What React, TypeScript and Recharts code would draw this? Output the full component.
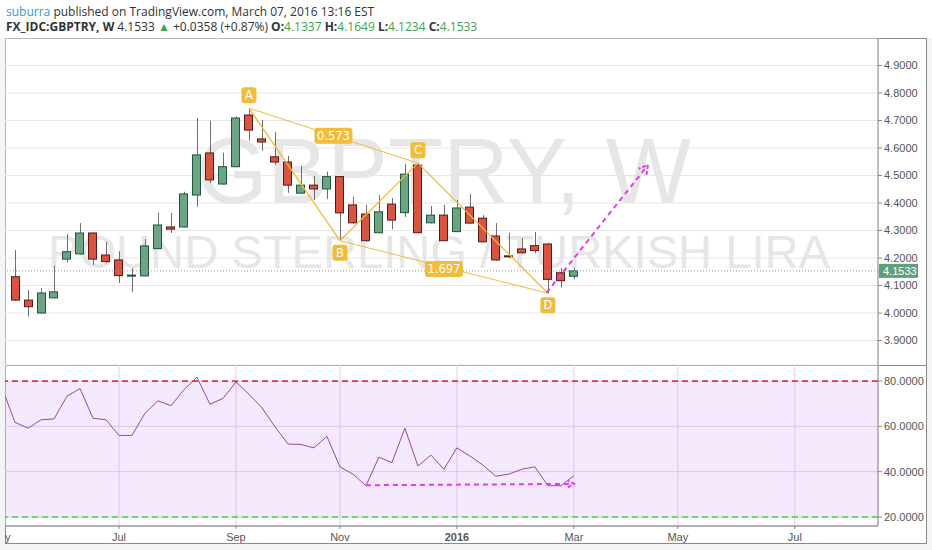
import React from 'react';
import {
    ComposedChart,
    Bar,
    Line,
    XAxis,
    YAxis,
    CartesianGrid,
    ReferenceLine,
    ReferenceArea,
    ReferenceDot,
} from 'recharts';

// weekly bars, index 0 = week of May 4 2015 (mostly off the left edge)
const barIdx = [1, 2, 3, 4, 5, 6, 7, 8, 9, 10, 11, 12, 13, 14, 15, 16, 17, 18, 19, 20, 21, 22,
    23, 24, 25, 26, 27, 28, 29, 30, 31, 32, 33, 34, 35, 36, 37, 38, 39, 40, 41, 42, 43, 44];
const opens = [4.132, 4.047, 4.0, 4.055, 4.196, 4.215, 4.291, 4.211, 4.193, 4.134, 4.135, 4.234, 4.313, 4.313,
    4.429, 4.582, 4.469, 4.532, 4.72, 4.633, 4.568, 4.549, 4.436, 4.465, 4.451, 4.496, 4.393, 4.36, 4.292,
    4.396, 4.365, 4.538, 4.328, 4.356, 4.296, 4.385, 4.345, 4.28, 4.208, 4.233, 4.245, 4.251, 4.1465, 4.1337];
const highs = [4.229, 4.084, 4.091, 4.172, 4.287, 4.327, 4.293, 4.259, 4.225, 4.164, 4.269, 4.365, 4.364, 4.441,
    4.709, 4.699, 4.583, 4.716, 4.745, 4.702, 4.658, 4.571, 4.535, 4.499, 4.514, 4.498, 4.423, 4.393, 4.429,
    4.418, 4.542, 4.545, 4.389, 4.393, 4.411, 4.433, 4.356, 4.327, 4.291, 4.273, 4.295, 4.255, 4.164, 4.1649];
const lows = [4.045, 3.987, 3.998, 4.053, 4.183, 4.212, 4.175, 4.183, 4.109, 4.076, 4.133, 4.232, 4.291, 4.31,
    4.387, 4.473, 4.467, 4.53, 4.627, 4.59, 4.538, 4.437, 4.434, 4.411, 4.415, 4.263, 4.325, 4.26, 4.29,
    4.305, 4.349, 4.29, 4.326, 4.261, 4.294, 4.325, 4.257, 4.19, 4.2, 4.216, 4.218, 4.072, 4.093, 4.1234];
const closes = [4.047, 4.023, 4.073, 4.077, 4.223, 4.291, 4.196, 4.187, 4.136, 4.138, 4.244, 4.32, 4.305, 4.433,
    4.575, 4.484, 4.532, 4.709, 4.665, 4.622, 4.549, 4.465, 4.465, 4.451, 4.496, 4.364, 4.328, 4.263, 4.368,
    4.338, 4.505, 4.292, 4.356, 4.263, 4.382, 4.327, 4.259, 4.193, 4.205, 4.219, 4.227, 4.1225, 4.1175, 4.1533];

const rsiIdx = [0, ...barIdx];
const rsi = [77, 61.8, 59.2, 62.9, 63.3, 73.3, 76.7, 63.6, 62.9, 56.0, 56.0, 65.8, 71.3, 69.1, 76.2, 81.7,
    69.8, 72.3, 79.6, 74.2, 68.2, 59.9, 52.2, 52.0, 50.5, 55.6, 42.1, 38.9, 33.8, 46.4, 44.0, 59.2, 42.5,
    47.3, 41.1, 50.5, 46.9, 42.9, 38.0, 38.9, 41.1, 42.1, 33.8, 33.8, 38.2];

const monthTicks = [9, 18, 26, 35, 44, 52, 61];
const monthLabels = ['Jul', 'Sep', 'Nov', '2016', 'Mar', 'May', 'Jul'];
const priceTicks = [3.9, 4.0, 4.1, 4.2, 4.3, 4.4, 4.5, 4.6, 4.7, 4.8, 4.9];
const rsiTicks = [20, 40, 60, 80];

// ABCD pattern pivots (bar, price)
const patternNames = ['A', 'B', 'C', 'D'];
const patternBars = [19, 26, 32, 42];
const patternPrices = [4.745, 4.263, 4.545, 4.072];
const patternRatios = ['0.573', '1.697'];
const arrowFrom = { x: 41.9, y: 4.074 };
const arrowTo = { x: 49.7, y: 4.538 };
const rsiDivFrom = { x: 28, y: 34.0 };
const rsiDivTo = { x: 44, y: 34.6 };
const lastPrice = 4.1533;

const X0 = 0.23;
const X1 = 67.4;
const PLOT_W = 873;

const candles = barIdx.map((i, k) => ({ i, open: opens[k], high: highs[k], low: lows[k], close: closes[k] }));
const rsiData = rsiIdx.map((i, k) => ({ i, rsi: rsi[k] }));
const pivots = patternBars.map((x, k) => ({ x, y: patternPrices[k], name: patternNames[k] }));

const GOLD = '#f2bb3a';
const AXIS = '#8a8a8a';
const TXT = '#555';

const Candle = (props: any) => {
    const { x, y, width, height, payload } = props;
    if (!payload || payload.open == null) return null;
    const { open, close, high, low } = payload;
    const top0 = Math.min(y, y + height);
    const h = Math.abs(height);
    const k = h / (high - low || 1);
    const up = close >= open;
    const bTop = top0 + (high - Math.max(open, close)) * k;
    const bBot = top0 + (high - Math.min(open, close)) * k;
    const cx = Math.round(x + width / 2) + 0.5;
    return (
        <g>
            <line x1={cx} x2={cx} y1={top0} y2={top0 + h} stroke="#6e6e6e" strokeWidth={1} />
            <rect
                x={Math.round(x) + 0.5}
                y={bTop}
                width={width - 1}
                height={Math.max(bBot - bTop, 1)}
                fill={up ? '#6ba583' : '#d75442'}
                stroke={up ? '#225437' : '#5b1a13'}
                strokeWidth={1}
            />
        </g>
    );
};

const tag = (text: string, dy: number, w: number) => (p: any) => (
    <g>
        <rect x={p.cx - w / 2} y={p.cy + dy - 8} width={w} height={16} rx={3} fill={GOLD} />
        <text x={p.cx} y={p.cy + dy + 4} textAnchor="middle" fill="#fff" fontSize={11.5}
            fontFamily="'DejaVu Sans', sans-serif">{text}</text>
    </g>
);

const Arrow = (color: string, len: number) => (p: any) => {
    const { x1, y1, x2, y2 } = p;
    const ang = Math.atan2(y2 - y1, x2 - x1);
    const a = Math.PI / 6;
    const hx1 = x2 - len * Math.cos(ang - a);
    const hy1 = y2 - len * Math.sin(ang - a);
    const hx2 = x2 - len * Math.cos(ang + a);
    const hy2 = y2 - len * Math.sin(ang + a);
    return (
        <g stroke={color} strokeWidth={2} fill="none" strokeDasharray="5 4">
            <line x1={x1} y1={y1} x2={x2} y2={y2} />
            <polyline points={`${hx1},${hy1} ${x2},${y2} ${hx2},${hy2}`} strokeDasharray="4 2" />
        </g>
    );
};

const LastPriceLabel = (p: any) => {
    const vb = p.viewBox || {};
    const x = vb.x + vb.width + 1;
    const y = vb.y;
    return (
        <g>
            <rect x={x} y={y - 7} width={39} height={14} fill="#5f9f79" />
            <text x={x + 4} y={y + 4} fill="#fff" fontSize={11} fontFamily="'Liberation Sans', Arial">
                {lastPrice.toFixed(4)}
            </text>
        </g>
    );
};

const MonthTick = (p: any) => {
    const { x, y, payload } = p;
    const v = payload.value;
    let label = '';
    let dx = 0;
    const k = monthTicks.indexOf(v);
    if (k >= 0) label = monthLabels[k];
    else {
        label = 'May';
        dx = -(X0 - 0) * (PLOT_W / (X1 - X0)) - 2;
    }
    return (
        <text x={x + dx} y={y + 10} textAnchor="middle" fill={TXT} fontSize={11}
            fontWeight={label === '2016' ? 'bold' : 'normal'} fontFamily="'Liberation Sans', Arial">
            {label}
        </text>
    );
};

const axisTick = { fill: TXT, fontSize: 11, fontFamily: "'Liberation Sans', Arial" };

const App: React.FC = () => {
    const head: React.CSSProperties = {
        position: 'absolute',
        left: 6,
        fontFamily: "'Open Sans', sans-serif",
        fontSize: 12,
        color: '#333',
        whiteSpace: 'nowrap',
        lineHeight: '14px',
    };
    const g = { color: '#3fa34d' };
    return (
        <div style={{ position: 'absolute', left: 0, top: 0, width: 932, height: 550, background: '#f3f4f6', overflow: 'hidden' }}>
            <div style={{ position: 'absolute', left: 0, top: 0, width: 932, height: 38, background: '#fff' }} />
            <div style={{ ...head, top: 5 }}>
                <span style={{ color: '#2f9bd6' }}>suburra</span> published on TradingView.com, March 07, 2016 13:16 EST
            </div>
            <div style={{ ...head, top: 20 }}>
                <b>FX_IDC:GBPTRY, W</b> 4.1533 <span style={g}>▲</span> +0.0358 (+0.87%){' '}
                <b>O:</b><span style={g}>4.1337</span> <b>H:</b><span style={g}>4.1649</span>{' '}
                <b>L:</b><span style={g}>4.1234</span> <b>C:</b><span style={g}>4.1533</span>
            </div>

            {/* frame */}
            <div style={{ position: 'absolute', left: 5, top: 38, width: 922, height: 506, background: '#fff', border: `1px solid ${AXIS}`, boxSizing: 'border-box' }} />

            {/* watermark */}
            <svg style={{ position: 'absolute', left: 0, top: 0 }} width={932} height={550}>
                <text x={197} y={203} fontSize={92} fill="#e6e6e6" textLength={494} lengthAdjust="spacingAndGlyphs"
                    fontFamily="'Liberation Sans', Arial">GBPTRY, W</text>
                <text x={48} y={268} fontSize={46} fill="#e6e6e6" textLength={782} lengthAdjust="spacingAndGlyphs"
                    fontFamily="'Liberation Sans', Arial">POUND STERLING / TURKISH LIRA</text>
            </svg>

            {/* price panel */}
            <div style={{ position: 'absolute', left: 5, top: 38, width: 921, height: 327, overflow: 'hidden' }}>
                <ComposedChart width={921} height={327} data={candles} margin={{ top: 0, right: 0, bottom: 0, left: 0 }}>
                    <CartesianGrid stroke="#e6e6e6" />
                    <XAxis type="number" dataKey="i" domain={[X0, X1]} ticks={monthTicks} allowDataOverflow
                        height={0} tick={false} axisLine={false} tickLine={false} />
                    <YAxis orientation="right" width={48} domain={[3.811, 5.0]} ticks={priceTicks} interval={0}
                        allowDataOverflow tick={axisTick} tickFormatter={(v: number) => v.toFixed(4)}
                        axisLine={{ stroke: AXIS }} tickLine={{ stroke: AXIS }} tickSize={4} />
                    <ReferenceLine y={lastPrice} stroke="#9a9a9a" strokeDasharray="1 2" label={<LastPriceLabel />} />
                    <Bar dataKey={(d: any) => [d.low, d.high]} barSize={9} shape={<Candle />} isAnimationActive={false} />
                    {/* ABCD legs */}
                    {pivots.slice(1).map((p, k) => (
                        <ReferenceLine key={'leg' + k} segment={[pivots[k], p]} stroke={GOLD} strokeWidth={1.3} ifOverflow="visible" />
                    ))}
                    <ReferenceLine segment={[pivots[0], pivots[2]]} stroke={GOLD} strokeWidth={1} ifOverflow="visible" />
                    <ReferenceLine segment={[pivots[1], pivots[3]]} stroke={GOLD} strokeWidth={1} ifOverflow="visible" />
                    <ReferenceLine segment={[arrowFrom, arrowTo]} ifOverflow="visible" shape={Arrow('#e23cf0', 10)} />
                    {pivots.map((p, k) => (
                        <ReferenceDot key={'tag' + k} x={p.x} y={p.y} r={0} ifOverflow="visible"
                            shape={tag(p.name, k % 2 === 0 ? -13 : 12, 15)} />
                    ))}
                    <ReferenceDot x={(pivots[0].x + pivots[2].x) / 2} y={(pivots[0].y + pivots[2].y) / 2} r={0}
                        ifOverflow="visible" shape={tag(patternRatios[0], 0, 38)} />
                    <ReferenceDot x={(pivots[1].x + pivots[3].x) / 2} y={(pivots[1].y + pivots[3].y) / 2} r={0}
                        ifOverflow="visible" shape={tag(patternRatios[1], 2, 38)} />
                </ComposedChart>
            </div>

            <div style={{ position: 'absolute', left: 5, top: 365, width: 922, height: 1, background: AXIS }} />

            {/* RSI panel */}
            <div style={{ position: 'absolute', left: 5, top: 365, width: 921, height: 178, overflow: 'hidden' }}>
                <ComposedChart width={921} height={178} data={rsiData} margin={{ top: 0, right: 0, bottom: 0, left: 0 }}>
                    <ReferenceArea y1={20} y2={80} fill="#c27cf5" fillOpacity={0.17} stroke="none" />
                    <CartesianGrid stroke="#ddd6e4" />
                    <XAxis type="number" dataKey="i" domain={[X0, X1]} ticks={[X0, ...monthTicks]} interval={0}
                        allowDataOverflow height={17} tick={<MonthTick />} axisLine={{ stroke: '#777' }}
                        tickLine={{ stroke: AXIS }} tickSize={3} />
                    <YAxis orientation="right" width={48} domain={[16, 87.1]} ticks={rsiTicks} interval={0}
                        allowDataOverflow tick={axisTick} tickFormatter={(v: number) => v.toFixed(4)}
                        axisLine={{ stroke: AXIS }} tickLine={{ stroke: AXIS }} tickSize={4} />
                    <ReferenceLine y={80} stroke="#e8343a" strokeDasharray="6 4" strokeWidth={1.6} />
                    <ReferenceLine y={20} stroke="#3cdc3c" strokeDasharray="6 4" strokeWidth={1.6} />
                    <Line type="linear" dataKey="rsi" stroke="#9547b0" strokeWidth={1} dot={false} isAnimationActive={false} />
                    <ReferenceLine segment={[rsiDivFrom, rsiDivTo]} ifOverflow="visible" shape={Arrow('#e23cf0', 7)} />
                </ComposedChart>
            </div>
        </div>
    );
};

export default App;
